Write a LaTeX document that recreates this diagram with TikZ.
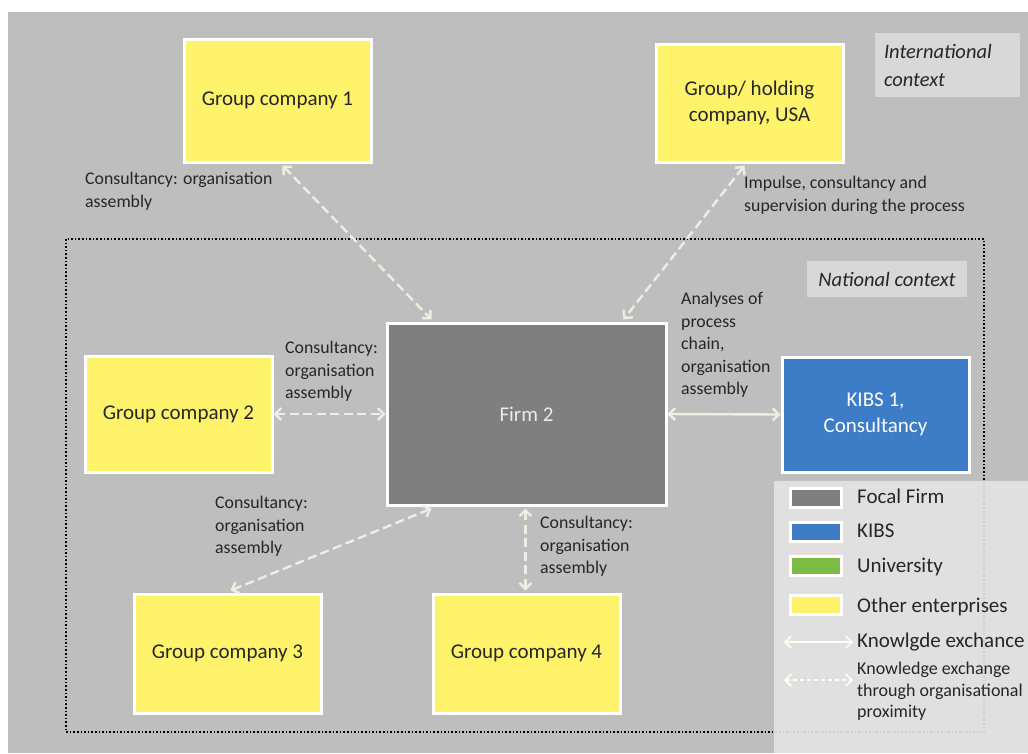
\documentclass[tikz,border=0pt]{standalone}
\usepackage{fontspec}
\setmainfont{Carlito}
\usetikzlibrary{arrows.meta,calc}
\definecolor{bgc}{HTML}{BEBEBE}
\definecolor{yel}{HTML}{FFF36B}
\definecolor{firmc}{HTML}{7F7F7F}
\definecolor{kibsc}{HTML}{3D7CC7}
\definecolor{uni}{HTML}{7DBB42}
\definecolor{lbl}{HTML}{D8D8D8}
\definecolor{legc}{HTML}{E4E4E4}
\definecolor{arr}{HTML}{EEEEE4}
\definecolor{txt}{HTML}{262626}
\begin{document}
\begin{tikzpicture}[x=1pt,y=-1pt,
  box/.style={draw=white, line width=3pt, inner sep=2pt, align=center, text=txt,
    font=\fontsize{21}{26}\selectfont},
  ybox/.style={box, fill=yel, minimum width=187pt},
  lab/.style={anchor=north west, align=left, inner sep=0pt, text=txt,
    font=\fontsize{17.8}{22.6}\selectfont},
  ctx/.style={fill=lbl, inner sep=0pt, align=left, text=txt,
    font=\fontsize{20.5}{28}\selectfont\itshape},
  dlink/.style={draw=arr, line width=2.4pt, dash pattern=on 9pt off 4.5pt,
    {Straight Barb[length=6pt,width=12pt]}-{Straight Barb[length=6pt,width=12pt]}},
  slink/.style={draw=arr, line width=2.4pt,
    {Straight Barb[length=6pt,width=12pt]}-{Straight Barb[length=6pt,width=12pt]}},
  swatch/.style={draw=white, line width=3pt, minimum width=51pt, minimum height=19pt, inner sep=0pt},
  legt/.style={anchor=west, inner sep=0pt, text=txt, align=left}
]
\useasboundingbox (0,0) rectangle (1028,753);
\fill[white] (0,0) rectangle (1028,753);
\fill[bgc] (8,12) rectangle (1028,753);

% context frames
\draw[black, line width=1.6pt, dotted] (66,239) rectangle (984,732);
\node[ctx, minimum width=145pt, minimum height=64pt, text width=127pt] (intl) at (947.5,65) {International\\context};
\node[ctx, minimum width=160pt, minimum height=36pt] (natl) at (887,279) {National context};

% nodes
\node[ybox, minimum height=123pt] (g1) at (277.5,100.5) {Group company 1};
\node[ybox, minimum height=118pt] (usa) at (749.5,103) {Group/ holding\\company, USA};
\node[box, fill=firmc, text=white!92!black, minimum width=279pt, minimum height=182pt] (f) at (526.5,414) {Firm 2};
\node[ybox, minimum height=116pt] (g2) at (178.5,414) {Group company 2};
\node[box, fill=kibsc, text=white, minimum width=187pt, minimum height=115pt] (k) at (875.5,414.5) {KIBS 1,\\Consultancy};
\node[ybox, minimum height=119pt] (g3) at (227.5,653.5) {Group company 3};
\node[ybox, minimum height=119pt] (g4) at (526.5,653.5) {Group company 4};

% connectors
\draw[dlink] ($(g1.south)+(5,2)$) -- ($(f.north west)+(46,-2)$);
\draw[dlink] ($(usa.south)+(-5,2)$) -- ($(f.north east)+(-44,-2)$);
\draw[dlink] (g2.east) -- (f.west);
\draw[slink] (f.east) -- (k.west);
\draw[dlink] ($(f.south west)+(46,2)$) -- ($(g3.north)+(3,-2)$);
\draw[dlink] ($(f.south)+(-1,2)$) -- ($(g4.north)+(-1,-2)$);

% labels
\node[lab] (l1) at (85,172) {Consultancy: organisation\\assembly};
\node[lab] (l2) at (744,176) {Impulse, consultancy and\\supervision during the process};
\node[lab] (l3) at (285,341) {Consultancy:\\organisation\\assembly};
\node[lab] (l4) at (681,292) {Analyses of\\process\\chain,\\organisation\\assembly};
\node[lab] (l5) at (215,496) {Consultancy:\\organisation\\assembly};
\node[lab] (l6) at (540,516) {Consultancy:\\organisation\\assembly};

% legend
\fill[legc, fill opacity=0.9] (774,481) rectangle (1028,753);
\node[swatch, fill=firmc] (s1) at (816,498) {};
\node[swatch, fill=kibsc] (s2) at (816,532) {};
\node[swatch, fill=uni] (s3) at (816,566) {};
\node[swatch, fill=yel] (s4) at (816,605) {};
\coordinate (a1l) at (784,642);
\coordinate (a1r) at (853,642);
\coordinate (a2l) at (784,680);
\coordinate (a2r) at (853,680);
\draw[slink, draw=white!95!yellow, line width=1.6pt] (a1l) -- (a1r);
\draw[dlink, draw=white!95!yellow, line width=1.6pt, dash pattern=on 4pt off 3pt] (a2l) -- (a2r);
\node[legt, font=\fontsize{21}{25}\selectfont] (t1) at (857,496) {Focal Firm};
\node[legt, font=\fontsize{21}{25}\selectfont] (t2) at (857,531) {KIBS};
\node[legt, font=\fontsize{21}{25}\selectfont] (t3) at (857,567) {University};
\node[legt, font=\fontsize{21}{25}\selectfont] (t4) at (857,607) {Other enterprises};
\node[legt, font=\fontsize{21}{25}\selectfont] (t5) at (857,642) {Knowlgde exchance};
\node[legt, anchor=north west, font=\fontsize{18}{21.5}\selectfont] (t6) at (857,662) {Knowledge exchange\\through organisational\\proximity};
\end{tikzpicture}
\end{document}
